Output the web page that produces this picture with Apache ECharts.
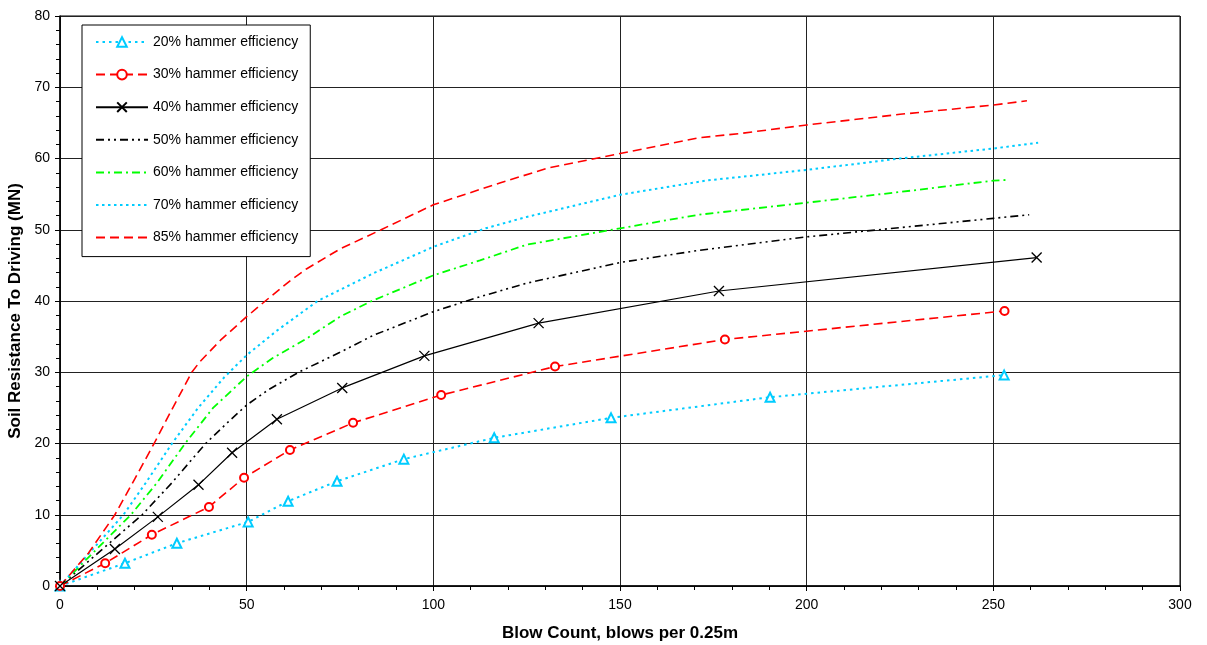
<!DOCTYPE html>
<html><head><meta charset="utf-8">
<script src="https://cdn.jsdelivr.net/npm/echarts@6/dist/echarts.min.js"></script>
<style>html,body{margin:0;padding:0;background:#fff}#c{width:1207px;height:645px}</style>
</head><body><div id="c"></div>
<script>
// ---- data ----
const seriesNames = ['20% hammer efficiency','30% hammer efficiency','40% hammer efficiency','50% hammer efficiency','60% hammer efficiency','70% hammer efficiency','85% hammer efficiency'];
const markedSeries = [true, true, true, false, false, false, false];
const xTicks = [0,50,100,150,200,250,300];
const yTicks = [0,10,20,30,40,50,60,70,80];

const x20 = [0,17.4,31.3,50.4,61.1,74.2,92.1,116.3,147.6,190.2,252.9];
const y20 = [0,3.2,6.0,9.0,11.9,14.7,17.8,20.8,23.6,26.5,29.6];

const x30 = [0,12.1,24.6,39.9,49.3,61.6,78.5,102.1,132.6,178.1,253.0];
const y30 = [0,3.2,7.2,11.1,15.2,19.1,22.9,26.8,30.8,34.6,38.6];

const x40 = [0,14.7,26.2,37.1,46.1,58.1,75.6,97.6,128.2,176.5,261.6];
const y40 = [0,5.2,9.7,14.2,18.7,23.4,27.8,32.3,36.9,41.4,46.1];

const x50 = [0,11,22,30,39,45,50,56,64.3,75,84,100,112.5,125,150,171,200,225,250,259.6];
const y50 = [0,5,10,14.5,20,23,25.4,27.6,30.1,32.8,35.2,38.5,40.6,42.5,45.4,47.1,49.0,50.3,51.6,52.1];

const x60 = [0,9.5,19,26,33.5,41,50,57,66,75,83.5,100,112.5,125,150,171,200,225,250,254];
const y60 = [0,5,10,14.5,20,25,29.4,32,34.7,37.8,40,43.6,45.7,47.9,50.2,52.1,53.8,55.3,56.9,57.0];

const x70 = [0,8.5,17,23,30,37,44,50,58,69,84,100,114,125,150,173,200,225,250,262];
const y70 = [0,5,10,14.5,20,25,29.3,32.4,35.8,40,43.9,47.6,50.2,51.8,54.9,56.9,58.4,60.0,61.4,62.2];

const x85 = [0,7.6,14.7,20,25.2,30,35.3,37.5,43,50,55,62,66,75,86,100,118,131,150,171,182,200,225,250,259];
const y85 = [0,4.6,10,15,20,24.8,30,31.5,34.5,37.8,40,43,44.5,47.3,50,53.5,56.6,58.7,60.7,62.9,63.5,64.7,66.2,67.5,68.1];

const zip = (xs, ys) => xs.map((x, i) => [x, ys[i]]);

const FONT = '"Liberation Sans", Arial, sans-serif';
const CYAN = '#00ccff', RED = '#ff0000', GREEN = '#00ff00', BLACK = '#000000';

function mk(name, xs, ys, color, type, width, symbol, symbolSize) {
  return {
    name, type: 'line', data: zip(xs, ys),
    smooth: false,
    symbol: symbol || 'none', symbolSize: symbolSize || 8,
    showSymbol: !!symbol,
    lineStyle: { color, type, width },
    itemStyle: symbol && symbol.startsWith('path') ? { color: 'rgba(0,0,0,0)', borderColor: color, borderWidth: 1.3 } : { color, borderColor: color, borderWidth: 1.3 },
    emphasis: { disabled: true },
    animation: false,
    z: 3
  };
}

const chart = echarts.init(document.getElementById('c'), null, { renderer: 'canvas' });
chart.setOption({
  animation: false,
  backgroundColor: '#fff',
  textStyle: { fontFamily: FONT },
  grid: { left: 60, right: 27, top: 16, bottom: 59, containLabel: false, outerBoundsMode: 'none',
    show: true, borderColor: '#000', borderWidth: 1, backgroundColor: 'transparent' },
  legend: {
    orient: 'vertical', left: 82, top: 25,
    padding: [10, 12, 12, 13],
    backgroundColor: '#fff', borderColor: '#000', borderWidth: 1,
    itemWidth: 52, itemHeight: 12, itemGap: 18.6,
    textStyle: { fontFamily: FONT, fontSize: 14, color: '#000' },
    data: seriesNames.map((n, i) => markedSeries[i] ? { name: n } : { name: n, itemStyle: { opacity: 0 } })
  },
  xAxis: {
    type: 'value', min: 0, max: 300, interval: 50,
    name: 'Blow Count, blows per 0.25m', nameLocation: 'middle', nameGap: 39,
    nameTextStyle: { fontFamily: FONT, fontSize: 17, fontWeight: 'bold', color: '#000' },
    axisLine: { show: true, onZero: false, lineStyle: { color: '#000', width: 1.5 } },
    axisTick: { show: true, length: 5, lineStyle: { color: '#000' } },
    minorTick: { show: true, splitNumber: 5, length: 4, lineStyle: { color: '#000' } },
    axisLabel: { fontFamily: FONT, fontSize: 14, color: '#000', margin: 12,
      formatter: v => xTicks.includes(v) ? String(v) : '' },
    splitLine: { show: true, lineStyle: { color: '#222', width: 1 } }
  },
  yAxis: {
    type: 'value', min: 0, max: 80, interval: 10,
    name: 'Soil Resistance To Driving (MN)', nameLocation: 'middle', nameGap: 32, nameRotate: 90,
    nameTextStyle: { fontFamily: FONT, fontSize: 17, fontWeight: 'bold', color: '#000', padding: [0, 20, 0, 0] },
    axisLine: { show: true, onZero: false, lineStyle: { color: '#000', width: 1.5 } },
    axisTick: { show: true, length: 5, lineStyle: { color: '#000' } },
    minorTick: { show: true, splitNumber: 5, length: 4, lineStyle: { color: '#000' } },
    axisLabel: { fontFamily: FONT, fontSize: 14, color: '#000', margin: 10,
      formatter: v => yTicks.includes(v) ? String(v) : '' },
    splitLine: { show: true, lineStyle: { color: '#222', width: 1 } }
  },
  series: [
    mk(seriesNames[0], x20, y20, CYAN, [2.5, 4], 2, 'emptyTriangle', 9),
    mk(seriesNames[1], x30, y30, RED, [9, 5], 1.6, 'emptyCircle', 8),
    mk(seriesNames[2], x40, y40, BLACK, 'solid', 1.2, 'path://M0,0L10,10M10,0L0,10', 10),
    mk(seriesNames[3], x50, y50, BLACK, [8, 4, 2, 4, 2, 4], 1.6),
    mk(seriesNames[4], x60, y60, GREEN, [8, 4, 2, 4], 1.8),
    mk(seriesNames[5], x70, y70, CYAN, [2.5, 3.5], 2),
    mk(seriesNames[6], x85, y85, RED, [9, 5], 1.6)
  ]
});
</script>
</body></html>
